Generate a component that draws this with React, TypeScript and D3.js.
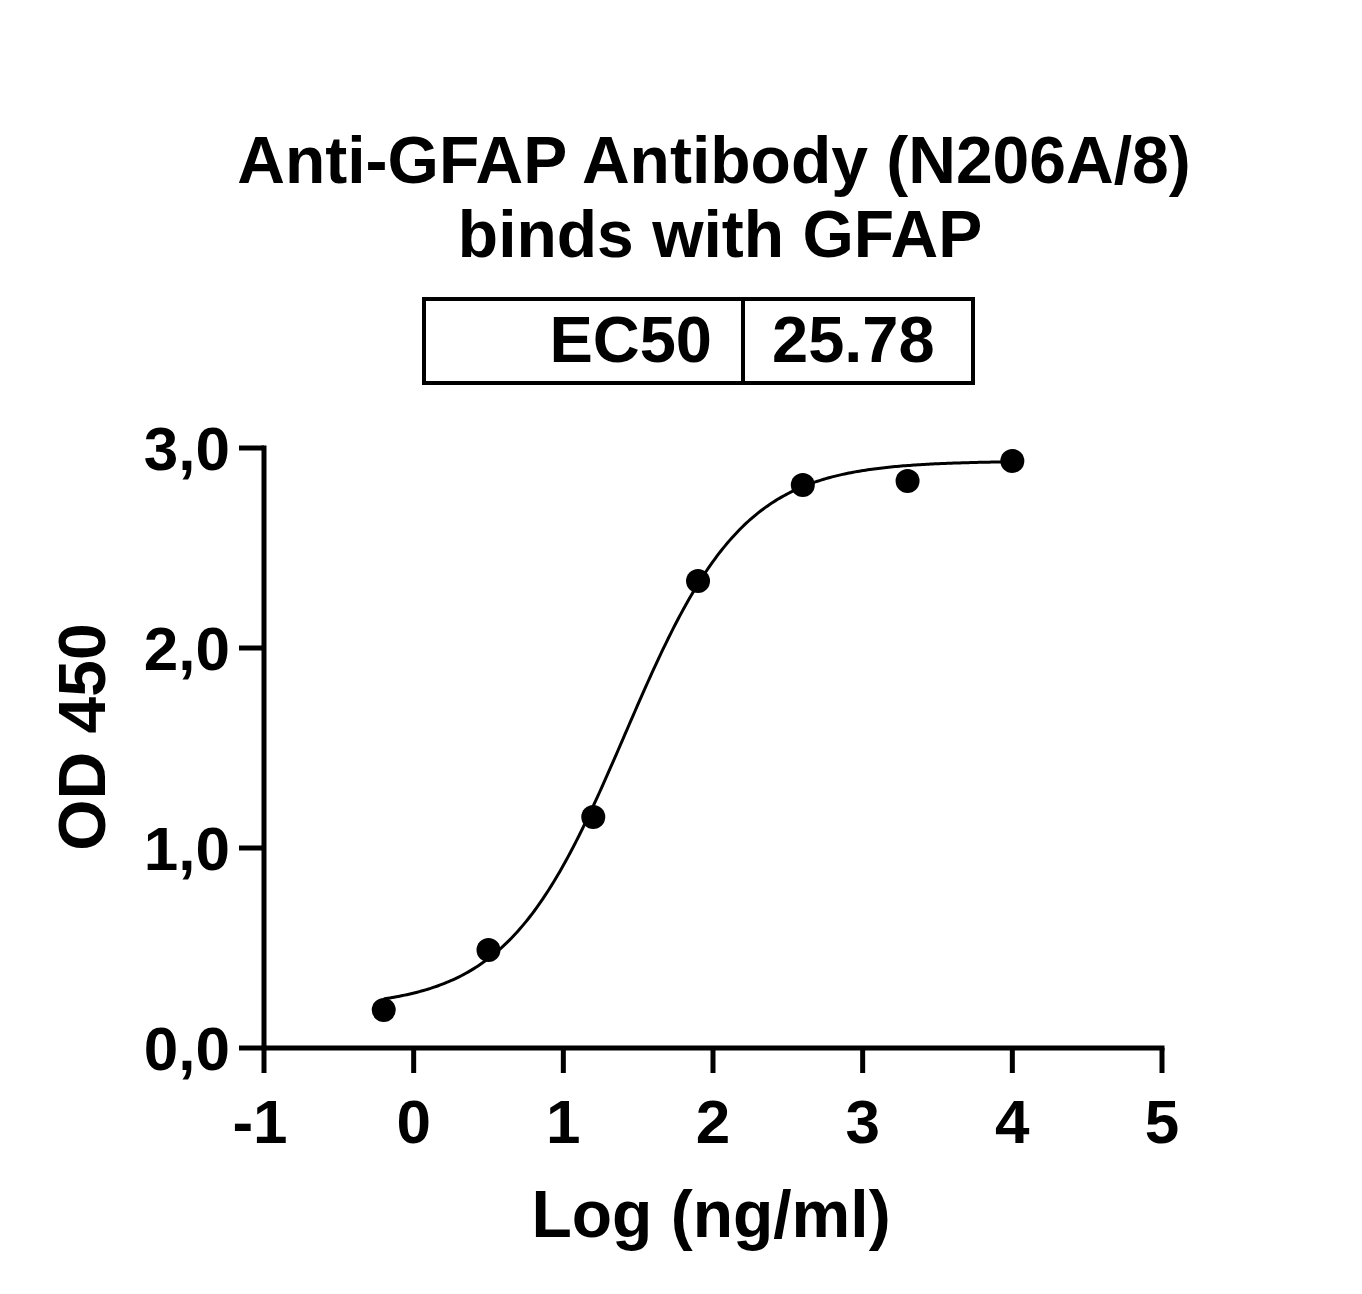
import React from "react";
import * as d3 from "d3";

const logConc = [-0.2, 0.5, 1.2, 1.9, 2.6, 3.3, 4.0];
const od450 = [0.19, 0.49, 1.155, 2.335, 2.815, 2.835, 2.935];
const xTicks = [-1, 0, 1, 2, 3, 4, 5];
const yTicks = [0, 1, 2, 3];
const yTickLabels = ["0,0", "1,0", "2,0", "3,0"];
const titleLines = ["Anti-GFAP Antibody (N206A/8)", "binds with GFAP"];
const ec50Label = "EC50";
const ec50Value = 25.78;
// fitted 4PL parameters
const fitBottom = 0.2;
const fitTop = 2.935;
const fitHill = 1.1;
const fitLogEC50 = Math.log10(ec50Value);

const W = 1362;
const H = 1294;
const FONT = "'Liberation Sans', Arial, Helvetica, sans-serif";

export default function App() {
  const x = d3.scaleLinear().domain([-1, 5]).range([264, 1162]);
  const y = d3.scaleLinear().domain([0, 3]).range([1048, 448]);

  const f = (lx: number) =>
    fitBottom + (fitTop - fitBottom) / (1 + Math.pow(10, fitHill * (fitLogEC50 - lx)));
  const xmin = d3.min(logConc) as number;
  const xmax = d3.max(logConc) as number;
  const curvePts: [number, number][] = d3
    .range(0, 301)
    .map((i) => xmin + ((xmax - xmin) * i) / 300)
    .map((lx) => [lx, f(lx)]);
  const line = d3
    .line<[number, number]>()
    .x((d) => x(d[0]))
    .y((d) => y(d[1]))
    .curve(d3.curveLinear);

  const axisW = 5;
  const tickLen = 25;

  return (
    <svg
      width={W}
      height={H}
      style={{ position: "absolute", left: 0, top: 0, background: "#fff" }}
      fontFamily={FONT}
      fontWeight="bold"
    >
      <rect x={0} y={0} width={W} height={H} fill="#fff" />
      {/* title */}
      <text x={714} y={183} textAnchor="middle" fontSize={66} fill="#000">
        {titleLines[0]}
      </text>
      <text x={720} y={257} textAnchor="middle" fontSize={66} fill="#000">
        {titleLines[1]}
      </text>
      {/* EC50 table */}
      <rect x={424} y={299} width={549} height={84} fill="none" stroke="#000" strokeWidth={4} />
      <line x1={743} x2={743} y1={299} y2={383} stroke="#000" strokeWidth={4} />
      <text x={712} y={362} textAnchor="end" fontSize={65} fill="#000">
        {ec50Label}
      </text>
      <text x={772} y={362} textAnchor="start" fontSize={65} fill="#000">
        {ec50Value.toFixed(2)}
      </text>

      {/* y axis */}
      <line x1={x(-1)} x2={x(-1)} y1={y(3) - axisW / 2} y2={y(0)} stroke="#000" strokeWidth={axisW} />
      {yTicks.map((t, i) => (
        <g key={"yt" + t}>
          <line x1={x(-1) - tickLen} x2={x(-1)} y1={y(t)} y2={y(t)} stroke="#000" strokeWidth={axisW} />
          <text x={230} y={y(t) + 22} textAnchor="end" fontSize={62} fill="#000">
            {yTickLabels[i]}
          </text>
        </g>
      ))}
      {/* x axis */}
      <line x1={x(-1)} x2={x(5) + axisW / 2} y1={y(0)} y2={y(0)} stroke="#000" strokeWidth={axisW} />
      {xTicks.map((t) => (
        <g key={"xt" + t}>
          <line x1={x(t)} x2={x(t)} y1={y(0)} y2={y(0) + tickLen} stroke="#000" strokeWidth={axisW} />
          <text x={x(t) - (t < 0 ? 4 : 0)} y={1143} textAnchor="middle" fontSize={62} fill="#000">
            {String(t)}
          </text>
        </g>
      ))}

      {/* curve */}
      <path d={line(curvePts) || ""} fill="none" stroke="#000" strokeWidth={3} />
      {/* points */}
      {logConc.map((lx, i) => (
        <circle key={"p" + i} cx={x(lx)} cy={y(od450[i])} r={12} fill="#000" />
      ))}

      {/* axis titles */}
      <text x={711} y={1237} textAnchor="middle" fontSize={66} fill="#000">
        Log (ng/ml)
      </text>
      <text
        transform={`translate(105, 737) rotate(-90)`}
        textAnchor="middle"
        fontSize={66}
        fill="#000"
      >
        OD 450
      </text>
    </svg>
  );
}
